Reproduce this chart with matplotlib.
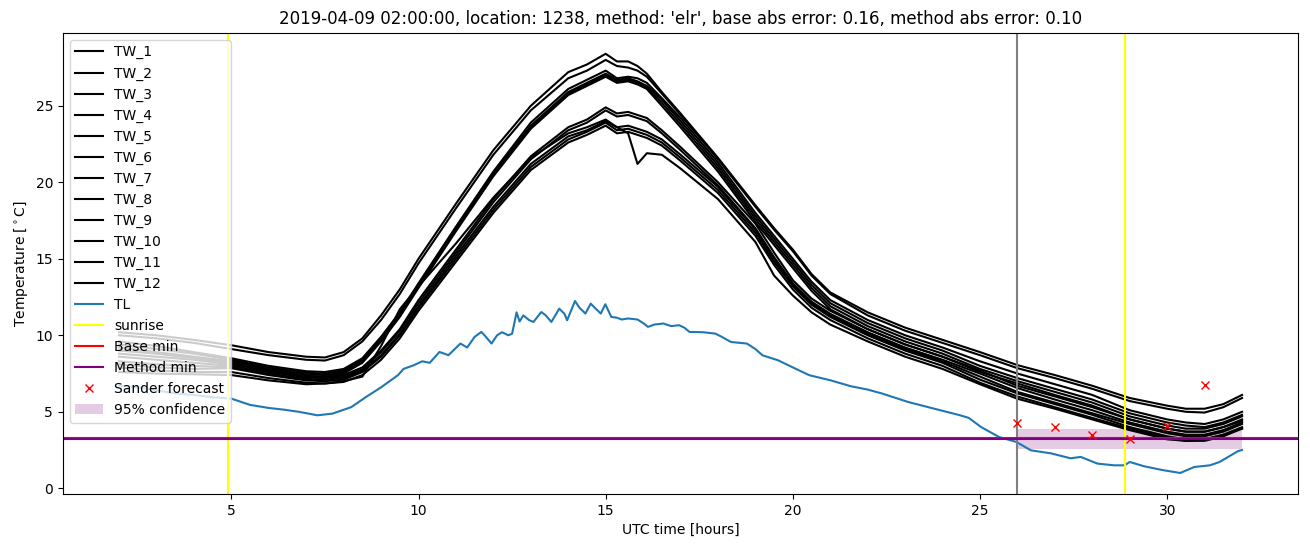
import numpy as np
import matplotlib
matplotlib.use("Agg")
import matplotlib.pyplot as plt

# time grid of the TW sensors [hours UTC]
tw_hours = [2, 3, 4, 5, 6, 7, 7.5, 8, 8.5, 9, 9.5, 10, 11, 12, 13, 14, 14.5, 15,
            15.3, 15.6, 15.85, 16.1, 16.5, 17, 18, 19, 19.5, 20, 20.5, 21, 22,
            23, 24, 25, 26, 27, 28, 29, 30, 30.5, 31, 31.5, 32]

TW_1 = [10.2, 10.0, 9.7, 9.35, 8.9, 8.6, 8.55, 8.9, 9.8, 11.3, 13.0, 15.0, 18.6, 22.1, 25.0, 27.2, 27.7, 28.4,
        27.9, 27.9, 27.6, 27.1, 25.9, 24.5, 21.6, 18.5, 17.0, 15.6, 14.0, 12.8, 11.5,
        10.5, 9.7, 8.9, 8.05, 7.4, 6.7, 5.9, 5.4, 5.2, 5.2, 5.5, 6.1]
TW_2 = [10.0, 9.8, 9.5, 9.1, 8.7, 8.4, 8.35, 8.7, 9.6, 11.0, 12.7, 14.7, 18.3, 21.8, 24.7, 26.8, 27.3, 28.0,
        27.6, 27.5, 27.3, 26.9, 25.8, 24.4, 21.5, 18.4, 16.9, 15.5, 13.9, 12.7, 11.3,
        10.3, 9.5, 8.7, 7.85, 7.2, 6.5, 5.7, 5.2, 5.0, 4.95, 5.3, 5.9]
TW_3 = [9.6, 9.3, 8.9, 8.5, 8.0, 7.65, 7.6, 7.8, 8.5, 9.9, 11.5, 13.4, 17.1, 20.7, 23.9, 26.1, 26.7, 27.3,
        26.8, 26.9, 26.8, 26.5, 25.5, 24.2, 21.3, 18.0, 16.5, 15.0, 13.5, 12.3, 11.0,
        10.0, 9.2, 8.3, 7.5, 6.8, 6.1, 5.1, 4.5, 4.3, 4.2, 4.5, 5.0]
TW_4 = [9.4, 9.1, 8.8, 8.4, 7.9, 7.55, 7.5, 7.7, 8.4, 9.8, 11.4, 13.3, 17.0, 20.6, 23.7, 25.9, 26.5, 27.1,
        26.7, 26.8, 26.6, 26.3, 25.4, 24.0, 21.1, 17.8, 16.3, 14.8, 13.3, 12.1, 10.8,
        9.8, 9.0, 8.0, 7.2, 6.5, 5.8, 4.9, 4.3, 4.1, 4.0, 4.3, 4.8]
TW_5 = [9.2, 8.9, 8.6, 8.3, 7.8, 7.45, 7.4, 7.6, 8.3, 9.7, 11.3, 13.2, 16.9, 20.5, 23.6, 25.8, 26.4, 27.0,
        26.6, 26.7, 26.5, 26.2, 25.2, 23.8, 20.9, 17.6, 16.1, 14.6, 13.1, 11.9, 10.6,
        9.6, 8.8, 7.8, 7.0, 6.3, 5.6, 4.7, 4.1, 3.9, 3.9, 4.2, 4.7]
TW_6 = [9.0, 8.8, 8.5, 8.2, 7.7, 7.35, 7.3, 7.5, 8.2, 9.6, 11.2, 13.1, 16.8, 20.4, 23.5, 25.7, 26.3, 26.9,
        26.5, 26.6, 26.4, 26.1, 25.0, 23.6, 20.7, 17.4, 15.9, 14.4, 12.9, 11.7, 10.4,
        9.4, 8.6, 7.6, 6.85, 6.1, 5.4, 4.5, 3.9, 3.7, 3.7, 4.0, 4.5]
TW_7 = [8.8, 8.6, 8.4, 8.1, 7.7, 7.3, 7.25, 7.4, 7.9, 9.0, 10.4, 12.3, 15.6, 18.9, 21.7, 23.6, 24.1, 24.9,
        24.5, 24.6, 24.4, 24.2, 23.4, 22.3, 20.0, 17.3, 15.4, 13.6, 12.4, 11.6, 10.4,
        9.4, 8.6, 7.7, 6.7, 6.0, 5.3, 4.5, 3.9, 3.7, 3.7, 4.0, 4.4]
TW_8 = [8.6, 8.4, 8.2, 8.0, 7.6, 7.25, 7.2, 7.3, 7.8, 8.9, 10.3, 12.1, 15.4, 18.7, 21.5, 23.4, 23.9, 24.7,
        24.3, 24.4, 24.2, 24.0, 23.2, 22.1, 19.8, 17.0, 15.1, 13.4, 12.2, 11.4, 10.2,
        9.2, 8.4, 7.5, 6.55, 5.8, 5.1, 4.3, 3.7, 3.5, 3.5, 3.8, 4.3]
TW_9 = [8.3, 8.1, 8.0, 7.9, 7.5, 7.15, 7.1, 7.2, 7.7, 8.7, 10.1, 11.9, 15.2, 18.4, 21.2, 23.0, 23.4, 24.0,
        23.6, 23.2, 21.2, 21.9, 21.8, 20.9, 18.9, 16.1, 13.9, 12.6, 11.5, 10.7, 9.6,
        8.6, 7.8, 6.8, 5.85, 5.2, 4.5, 3.8, 3.2, 3.1, 3.1, 3.4, 3.9]
TW_10 = [8.1, 7.9, 7.8, 7.85, 7.4, 7.05, 7.0, 7.1, 7.6, 8.6, 10.0, 11.8, 15.0, 18.2, 21.0, 22.8, 23.3, 23.9,
         23.4, 23.5, 23.3, 23.1, 22.6, 21.6, 19.5, 16.7, 14.8, 13.2, 12.0, 11.2, 10.0,
         9.0, 8.2, 7.1, 6.2, 5.5, 4.8, 4.0, 3.4, 3.2, 3.2, 3.5, 4.0]
TW_11 = [7.9, 7.7, 7.6, 7.6, 7.2, 6.9, 6.85, 6.95, 7.4, 8.4, 9.8, 11.6, 14.8, 18.0, 20.8, 22.6, 23.1, 23.7,
         23.2, 23.3, 23.1, 22.9, 22.4, 21.4, 19.3, 16.5, 14.6, 13.0, 11.8, 11.0, 9.8,
         8.8, 8.0, 6.9, 6.0, 5.3, 4.6, 3.9, 3.3, 3.1, 3.2, 3.5, 3.9]
TW_12 = [7.6, 7.5, 7.45, 7.4, 7.05, 6.8, 6.85, 7.0, 7.3, 9.3, 11.7, 13.2, 16.0, 19.0, 21.6, 23.2, 23.6, 24.1,
         23.6, 23.7, 23.5, 23.3, 22.8, 21.8, 19.7, 16.9, 15.0, 13.3, 12.1, 11.3, 10.1,
         9.1, 8.3, 7.3, 6.3, 5.6, 4.9, 4.2, 3.6, 3.4, 3.4, 3.7, 4.2]

tw_series = [TW_1, TW_2, TW_3, TW_4, TW_5, TW_6, TW_7, TW_8, TW_9, TW_10, TW_11, TW_12]

# TL sensor
tl_hours = [2, 2.5, 3, 3.5, 4, 4.5, 5, 5.5, 6, 6.4, 6.8, 7.3, 7.7, 8.2, 8.6, 9.0, 9.45, 9.6, 9.87,
            10.1, 10.3, 10.56, 10.8, 11.12, 11.3, 11.5, 11.68, 11.8, 11.95, 12.1, 12.23, 12.4, 12.5,
            12.62, 12.7, 12.8, 12.95, 13.07, 13.28, 13.4, 13.55, 13.76, 13.9, 13.97, 14.18, 14.3,
            14.46, 14.6, 14.75, 14.87, 14.99, 15.15, 15.3, 15.43, 15.6, 15.85, 16.0, 16.13, 16.3,
            16.54, 16.75, 16.96, 17.1, 17.24, 17.6, 17.93, 18.1, 18.35, 18.77, 19.0, 19.19, 19.6,
            20.0, 20.44, 21.0, 21.55, 22.0, 22.39, 23.08, 23.78, 24.47, 24.7, 25.03, 25.51, 25.97,
            26.36, 26.9, 27.42, 27.69, 28.14, 28.59, 28.86, 29.0, 29.38, 29.9, 30.35, 30.72, 31.14,
            31.4, 31.9, 32]
tl_values = [6.7, 6.6, 6.4, 6.2, 6.1, 5.95, 5.86, 5.45, 5.25, 5.14, 5.0, 4.77, 4.88, 5.3, 5.97, 6.6, 7.39, 7.8, 8.04,
             8.3, 8.2, 8.91, 8.7, 9.46, 9.2, 9.9, 10.22, 9.9, 9.46, 10.0, 10.2, 10.0, 10.1,
             11.5, 10.9, 11.3, 11.0, 10.87, 11.52, 11.3, 10.87, 11.74, 11.4, 10.98, 12.24, 11.8,
             11.42, 12.07, 11.7, 11.42, 12.03, 11.2, 11.15, 11.03, 11.1, 11.03, 10.8, 10.55, 10.7,
             10.77, 10.6, 10.66, 10.5, 10.22, 10.2, 10.11, 9.9, 9.56, 9.46, 9.1, 8.69, 8.37,
             7.9, 7.39, 7.06, 6.67, 6.45, 6.19, 5.64, 5.2, 4.77, 4.6, 4.0, 3.35, 3.03,
             2.48, 2.28, 1.96, 2.05, 1.61, 1.5, 1.5, 1.72, 1.44, 1.18, 1.0, 1.39, 1.5,
             1.72, 2.44, 2.5]

sunrise_hours = [4.9, 28.86]
forecast_hour = 26
base_min = 3.27
method_min = 3.22
conf_low, conf_high = 2.57, 3.86
conf_hours = [26, 32]

sander_hours = [26, 27, 28, 29, 30, 31]
sander_values = [4.29, 4.01, 3.51, 3.22, 4.07, 6.73]

fig, ax = plt.subplots(figsize=(13.1, 5.47), dpi=100)

for i, tw in enumerate(tw_series):
    ax.plot(tw_hours, tw, color='black', label='TW_%d' % (i + 1))
ax.plot(tl_hours, tl_values, color='C0', label='TL')
for j, s in enumerate(sunrise_hours):
    ax.axvline(s, color='yellow', label='sunrise' if j == 0 else None)
ax.axvline(forecast_hour, color='grey')
ax.axhline(base_min, color='red', label='Base min')
ax.axhline(method_min, color='purple', label='Method min')
ax.plot(sander_hours, sander_values, 'rx', label='Sander forecast')
ax.fill_between(conf_hours, [conf_low] * 2, [conf_high] * 2, color='purple', alpha=0.2,
                linewidth=0, label='95% confidence')

ax.set_title("2019-04-09 02:00:00, location: 1238, method: 'elr', base abs error: 0.16, method abs error: 0.10")
ax.set_xlabel('UTC time [hours]')
ax.set_ylabel(r'Temperature [$^\circ$C]')
ax.legend(loc='upper left')

plt.subplots_adjust(left=0.048, right=0.991, top=0.94, bottom=0.097)
plt.savefig('out.png')
